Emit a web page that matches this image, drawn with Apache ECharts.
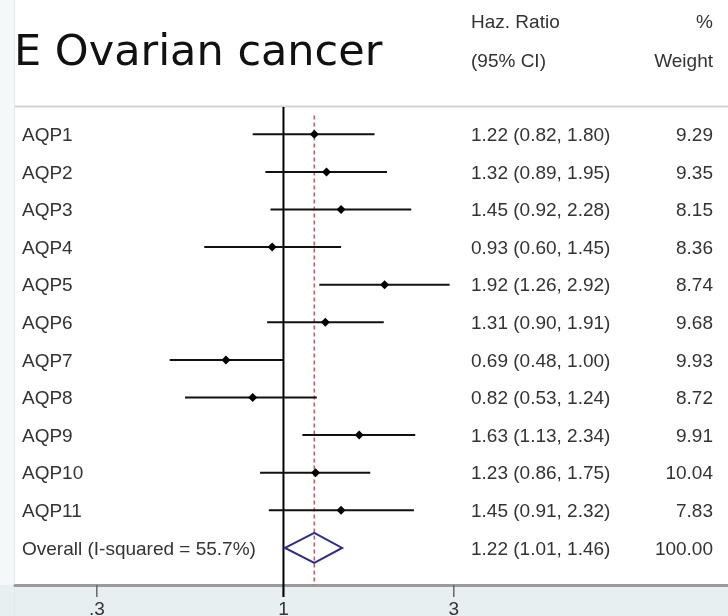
<!DOCTYPE html>
<html><head><meta charset="utf-8">
<script src="https://cdn.jsdelivr.net/npm/echarts@6/dist/echarts.min.js"></script>
<style>html,body{margin:0;padding:0;background:#fff}#c{width:728px;height:616px}</style>
</head><body><div id="c"></div>
<script>
// ---- data ----
const titleText = 'E Ovarian cancer';
const studies = ['AQP1','AQP2','AQP3','AQP4','AQP5','AQP6','AQP7','AQP8','AQP9','AQP10','AQP11'];
const hr     = [1.22, 1.32, 1.45, 0.93, 1.92, 1.31, 0.69, 0.82, 1.63, 1.23, 1.45];
const ciLow  = [0.82, 0.89, 0.92, 0.60, 1.26, 0.90, 0.48, 0.53, 1.13, 0.86, 0.91];
const ciHigh = [1.80, 1.95, 2.28, 1.45, 2.92, 1.91, 1.00, 1.24, 2.34, 1.75, 2.32];
const weights = ['9.29','9.35','8.15','8.36','8.74','9.68','9.93','8.72','9.91','10.04','7.83'];
const overallLabel = 'Overall (I-squared = 55.7%)';
const overallEst = [1.22, 1.01, 1.46]; // HR, low, high
const overallWeight = '100.00';
const headerEst = ['Haz. Ratio', '(95% CI)'];
const headerWeight = ['%', 'Weight'];
const tickValues = [0.3, 1, 3];
const tickLabels = ['.3', '1', '3'];

// ---- layout ----
const Y_MIN = -0.726, Y_MAX = 11.987;
const X_MIN = 0.177, X_MAX = 17.59;
const SMALL = '19px "Liberation Sans", Arial, sans-serif';
const TXT = '#333333';
const COL_NAME = 22, COL_EST = 471, COL_W = 713;

const f2 = v => v.toFixed(2);
const estText = i => f2(hr[i]) + ' (' + f2(ciLow[i]) + ', ' + f2(ciHigh[i]) + ')';
const rowNames = studies.concat([overallLabel]);
const rowEst = studies.map((s, i) => estText(i)).concat([f2(overallEst[0]) + ' (' + f2(overallEst[1]) + ', ' + f2(overallEst[2]) + ')']);
const rowW = weights.concat([overallWeight]);

const chart = echarts.init(document.getElementById('c'), null, {renderer: 'canvas'});

function txt(text, x, y, align, font, fill) {
  return {type: 'text', style: {text: text, x: x, y: y, textAlign: align, textVerticalAlign: 'middle', font: font || SMALL, fill: fill || TXT}};
}

const option = {
  animation: false,
  backgroundColor: '#ffffff',
  grid: {left: 15, right: 0, top: 107, bottom: 31, containLabel: false},
  xAxis: {
    type: 'log', logBase: 10, min: X_MIN, max: X_MAX,
    axisLine: {show: true, onZero: false, lineStyle: {color: '#9a9a9a', width: 3}},
    axisTick: {show: false}, axisLabel: {show: false},
    splitLine: {show: false}, minorTick: {show: false}
  },
  yAxis: {type: 'value', inverse: true, min: Y_MIN, max: Y_MAX, show: false, splitLine: {show: false}},
  graphic: [
    {type: 'rect', shape: {x: 0, y: 0, width: 14, height: 616}, style: {fill: '#f4f8f9'}, z: -20},
    {type: 'line', shape: {x1: 14.5, y1: 0, x2: 14.5, y2: 616}, style: {stroke: '#e1e9ec', lineWidth: 1}, z: -19},
    {type: 'rect', shape: {x: 0, y: 585, width: 728, height: 31}, style: {fill: '#e8eff1'}, z: -20},
    {type: 'line', shape: {x1: 15, y1: 106.5, x2: 728, y2: 106.5}, style: {stroke: '#d4d4d4', lineWidth: 2}, z: -5},
    {type: 'text', x: 14, y: 54, style: {text: titleText, font: '43px "DejaVu Sans", sans-serif', fill: '#111111', textAlign: 'left', textVerticalAlign: 'middle'}},
    {type: 'text', x: COL_EST, y: 23, style: {text: headerEst[0], font: SMALL, fill: TXT, textAlign: 'left', textVerticalAlign: 'middle'}},
    {type: 'text', x: COL_EST, y: 62, style: {text: headerEst[1], font: SMALL, fill: TXT, textAlign: 'left', textVerticalAlign: 'middle'}},
    {type: 'text', x: COL_W, y: 23, style: {text: headerWeight[0], font: SMALL, fill: TXT, textAlign: 'right', textVerticalAlign: 'middle'}},
    {type: 'text', x: COL_W, y: 62, style: {text: headerWeight[1], font: SMALL, fill: TXT, textAlign: 'right', textVerticalAlign: 'middle'}}
  ],
  series: [
    // null line at HR = 1
    {
      type: 'custom', z: 3, silent: true,
      data: [[1]],
      encode: {x: 0},
      renderItem: function (params, api) {
        const a = api.coord([api.value(0), Y_MIN]);
        const b = api.coord([api.value(0), Y_MAX]);
        return {type: 'line', shape: {x1: a[0], y1: a[1], x2: b[0], y2: b[1] + 12}, style: {stroke: '#000', lineWidth: 2}};
      }
    },
    // overall estimate dashed line
    {
      type: 'custom', z: 2, silent: true,
      data: [[overallEst[0]]],
      encode: {x: 0},
      renderItem: function (params, api) {
        const a = api.coord([api.value(0), -0.5]);
        const b = api.coord([api.value(0), Y_MAX]);
        return {type: 'line', shape: {x1: a[0], y1: a[1], x2: b[0], y2: b[1]}, style: {stroke: '#c0646c', lineWidth: 1.6, lineDash: [4, 3]}};
      }
    },
    // study CIs and point estimates
    {
      type: 'custom', z: 4, silent: true,
      data: studies.map((s, i) => [i, ciLow[i], hr[i], ciHigh[i]]),
      encode: {y: 0, x: [1, 2, 3]},
      renderItem: function (params, api) {
        const row = api.value(0);
        const a = api.coord([api.value(1), row]);
        const c = api.coord([api.value(2), row]);
        const b = api.coord([api.value(3), row]);
        const r = 4.5;
        return {type: 'group', children: [
          {type: 'line', shape: {x1: a[0], y1: a[1], x2: b[0], y2: b[1]}, style: {stroke: '#111', lineWidth: 2}},
          {type: 'polygon', shape: {points: [[c[0] - r, c[1]], [c[0], c[1] - r], [c[0] + r, c[1]], [c[0], c[1] + r]]}, style: {fill: '#000'}}
        ]};
      }
    },
    // overall diamond
    {
      type: 'custom', z: 5, silent: true,
      data: [[studies.length, overallEst[1], overallEst[0], overallEst[2]]],
      encode: {y: 0, x: [1, 2, 3]},
      renderItem: function (params, api) {
        const row = api.value(0);
        const l = api.coord([api.value(1), row]);
        const t = api.coord([api.value(2), row - 0.4]);
        const r = api.coord([api.value(3), row]);
        const b = api.coord([api.value(2), row + 0.4]);
        return {type: 'polygon', shape: {points: [l, t, r, b]}, style: {fill: 'none', stroke: '#2d2d8f', lineWidth: 2}};
      }
    },
    // text columns
    {
      type: 'custom', z: 6, silent: true,
      data: rowNames.map((s, i) => [1, i]),
      encode: {x: 0, y: 1},
      renderItem: function (params, api) {
        const i = params.dataIndex;
        const p = api.coord([1, api.value(1)]);
        const y = p[1] + 1.5;
        return {type: 'group', children: [
          txt(rowNames[i], COL_NAME, y, 'left'),
          txt(rowEst[i], COL_EST, y, 'left'),
          txt(rowW[i], COL_W, y, 'right')
        ]};
      }
    },
    // axis ticks and labels
    {
      type: 'custom', z: 2, silent: true,
      data: tickValues.map(v => [v]),
      encode: {x: 0},
      renderItem: function (params, api) {
        const i = params.dataIndex;
        const p = api.coord([api.value(0), Y_MAX]);
        return {type: 'group', children: [
          {type: 'line', shape: {x1: p[0], y1: p[1], x2: p[0], y2: p[1] + 12}, style: {stroke: '#666', lineWidth: 1.5}},
          txt(tickLabels[i], p[0], p[1] + 25, 'center')
        ]};
      }
    }
  ]
};
chart.setOption(option);
</script>
</body></html>
